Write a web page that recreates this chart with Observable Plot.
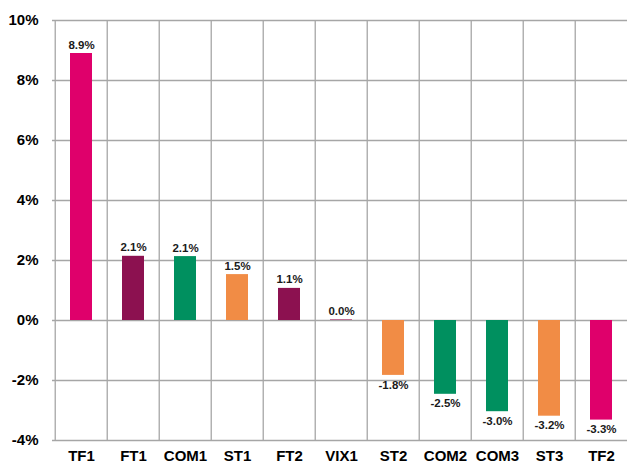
<!DOCTYPE html>
<html>
<head>
<meta charset="utf-8">
<script src="https://cdn.jsdelivr.net/npm/d3@7"></script>
<script src="https://cdn.jsdelivr.net/npm/@observablehq/plot@0.6"></script>
<style>
  html, body { margin: 0; padding: 0; background: #fff; overflow: hidden; }
</style>
</head>
<body>
<div id="chart"></div>
<script>
const categories = ["TF1", "FT1", "COM1", "ST1", "FT2", "VIX1", "ST2", "COM2", "COM3", "ST3", "TF2"];
const values = [8.9, 2.14, 2.13, 1.53, 1.07, 0.02, -1.83, -2.46, -3.04, -3.19, -3.32];
const groups = ["TF", "FT", "COM", "ST", "FT", "VIX", "ST", "COM", "COM", "ST", "TF"];
const groupNames = ["TF", "FT", "COM", "ST", "VIX"];
const groupColors = ["#df006b", "#8c1150", "#00905f", "#f18c45", "#a0205e"];
const yTicks = [-4, -2, 0, 2, 4, 6, 8, 10];

const data = categories.map((c, i) => ({cat: c, value: values[i], group: groups[i]}));

const W = 627, H = 463, ML = 52, MR = -3, MT = 20, MB = 23;
const step = (W - MR - ML) / categories.length;
const grid = "#a6a6a6";
const font = "'Liberation Sans', Arial, Helvetica, sans-serif";

const chart = Plot.plot({
  width: W, height: H,
  marginLeft: ML, marginRight: MR, marginTop: MT, marginBottom: MB,
  style: {fontFamily: font, background: "#fff", color: "#000", overflow: "visible"},
  x: {domain: categories, paddingInner: 0.575, paddingOuter: 0.2875, axis: null, label: null},
  y: {domain: [-4, 10], axis: null, label: null},
  color: {domain: groupNames, range: groupColors},
  marks: [
    Plot.ruleY(yTicks, {y: d => d, stroke: grid, strokeWidth: 1.3}),
    Plot.ruleX(categories, {x: d => d, dx: -step / 2, stroke: grid, strokeWidth: 1.3}),
    Plot.ruleX(categories.slice(-1), {x: d => d, dx: step / 2, stroke: grid, strokeWidth: 1.3}),
    Plot.barY(data, {x: "cat", y: "value", fill: "group"}),
    Plot.text(data.filter(d => d.value >= 0), {
      x: "cat", y: "value", text: d => d.value.toFixed(1) + "%",
      lineAnchor: "bottom", dy: -5, fontSize: 11.5, fontWeight: "bold", fill: "#1a1a1a"
    }),
    Plot.text(data.filter(d => d.value < 0), {
      x: "cat", y: "value", text: d => d.value.toFixed(1) + "%",
      lineAnchor: "top", dy: 5, fontSize: 11.5, fontWeight: "bold", fill: "#1a1a1a"
    }),
    Plot.axisY(yTicks, {
      tickSize: 0, tickPadding: 14, tickFormat: d => d + "%",
      fontSize: 15, fontWeight: "bold", label: null
    }),
    Plot.axisX({
      tickSize: 0, tickPadding: 10, fontSize: 15, fontWeight: "bold", label: null
    })
  ]
});
document.getElementById("chart").appendChild(chart);
</script>
</body>
</html>
